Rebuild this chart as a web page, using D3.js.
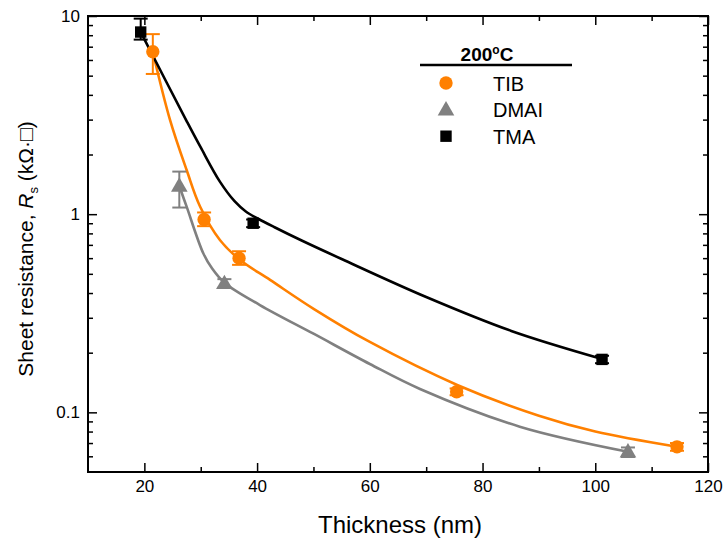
<!DOCTYPE html>
<html>
<head>
<meta charset="utf-8">
<script src="https://cdn.jsdelivr.net/npm/d3@7"></script>
<style>
  body { margin: 0; background: #fff; }
  svg text { font-family: "Liberation Sans", Arial, sans-serif; }
</style>
</head>
<body>
<div id="root"></div>
<script>
//DATA
const tibX = [21.5, 30.6, 36.8, 75.4, 114.5];
const tibY = [6.6, 0.94, 0.60, 0.127, 0.067];
const tibLo = [5.1, 0.87, 0.555, 0.122, 0.064];
const tibHi = [8.1, 1.02, 0.65, 0.132, 0.070];

const dmaiX = [26.2, 34.2, 105.8];
const dmaiY = [1.39, 0.448, 0.0633];
const dmaiLo = [1.08, 0.425, 0.0595];
const dmaiHi = [1.64, 0.47, 0.0665];

const tmaX = [19.35, 39.3, 101.2];
const tmaY = [8.3, 0.90, 0.185];
const tmaLo = [7.6, 0.86, 0.177];
const tmaHi = [9.7, 0.94, 0.193];

//FITTED CURVES
const tibFitX = [21.5, 24.55, 27.5, 29.9, 33.4, 37.0, 42.3, 50.1, 60, 75.5, 90, 100, 114.5];
const tibFitY = [6.58, 2.99, 1.67, 1.09, 0.741, 0.587, 0.466, 0.332, 0.2265, 0.1375, 0.0962, 0.0801, 0.0671];
const dmaiFitX = [26.2, 27.5, 30.45, 32.0, 34.2, 40.5, 50.1, 60, 68.9, 86.6, 105.8];
const dmaiFitY = [1.388, 1.091, 0.635, 0.533, 0.451, 0.348, 0.2486, 0.1754, 0.1312, 0.0847, 0.0633];
const tmaFitX = [19.35, 24.0, 27.5, 30.0, 33.4, 36.0, 38.0, 40.1, 43.1, 48.0, 55.1, 70.0, 85.1, 101.2];
const tmaFitY = [8.3, 4.59, 2.95, 2.17, 1.46, 1.163, 1.032, 0.951, 0.859, 0.734, 0.592, 0.382, 0.2576, 0.186];

//TICKS
const xMajor = [20, 40, 60, 80, 100, 120];
const xMinor = [30, 50, 70, 90, 110];
const yMajor = [0.1, 1, 10];
const yMinor = [0.06, 0.07, 0.08, 0.09, 0.2, 0.3, 0.4, 0.5, 0.6, 0.7, 0.8, 0.9, 2, 3, 4, 5, 6, 7, 8, 9];

const seriesNames = ["TIB", "DMAI", "TMA"];
const colors = {TIB: "#ff8000", DMAI: "#808080", TMA: "#000000"};

//DIMENSIONS
const width = 727, height = 546;
const pl = 88, pr = 708, pt = 16, pb = 472;

const svg = d3.select('#root')
  .append('svg')
  .attr('width', width)
  .attr('height', height);

//SCALES
const x = d3.scaleLinear().domain([10, 120]).range([pl, pr]);
const y = d3.scaleLog().domain([0.05, 10]).range([pb, pt]);

//AXES (ticks point inward)
function addAxis(gen, tx, ty, vals, size, fmt) {
  const g = svg.append('g')
    .attr('transform', `translate(${tx},${ty})`)
    .call(gen.tickValues(vals).tickSize(-size).tickPadding(8).tickFormat(fmt));
  g.select('.domain').remove();
  g.selectAll('line').attr('stroke', '#000').attr('stroke-width', 1.5);
  g.selectAll('text').attr('fill', '#000').style('font-size', '17px');
  return g;
}
addAxis(d3.axisBottom(x), 0, pb, xMajor, 9, d => d);
addAxis(d3.axisBottom(x), 0, pb, xMinor, 5, () => '');
addAxis(d3.axisTop(x), 0, pt, xMajor, 9, () => '');
addAxis(d3.axisTop(x), 0, pt, xMinor, 5, () => '');
addAxis(d3.axisLeft(y), pl, 0, yMajor, 9, d => d);
addAxis(d3.axisLeft(y), pl, 0, yMinor, 5, () => '');
addAxis(d3.axisRight(y), pr, 0, yMajor, 9, () => '');
addAxis(d3.axisRight(y), pr, 0, yMinor, 5, () => '');

//FRAME
svg.append('rect')
  .attr('x', pl).attr('y', pt)
  .attr('width', pr - pl).attr('height', pb - pt)
  .attr('fill', 'none').attr('stroke', '#000').attr('stroke-width', 2);

//CURVES
const line = d3.line()
  .x(d => x(d[0]))
  .y(d => y(d[1]))
  .curve(d3.curveCatmullRom.alpha(0.5));

const fits = {
  TMA: d3.zip(tmaFitX, tmaFitY),
  TIB: d3.zip(tibFitX, tibFitY),
  DMAI: d3.zip(dmaiFitX, dmaiFitY)
};
["DMAI", "TIB", "TMA"].forEach(k => {
  svg.append('path')
    .datum(fits[k])
    .attr('fill', 'none')
    .attr('stroke', colors[k])
    .attr('stroke-width', 2.6)
    .attr('d', line);
});

//POINTS + ERROR BARS
const points = {
  TIB: tibX.map((v, i) => ({x: v, y: tibY[i], lo: tibLo[i], hi: tibHi[i]})),
  DMAI: dmaiX.map((v, i) => ({x: v, y: dmaiY[i], lo: dmaiLo[i], hi: dmaiHi[i]})),
  TMA: tmaX.map((v, i) => ({x: v, y: tmaY[i], lo: tmaLo[i], hi: tmaHi[i]}))
};
const shapes = {TIB: d3.symbolCircle, DMAI: d3.symbolTriangle, TMA: d3.symbolSquare};
const sizes = {TIB: 140, DMAI: 120, TMA: 130};

seriesNames.forEach(k => {
  const g = svg.append('g');
  const c = colors[k];
  points[k].forEach(p => {
    const px = x(p.x);
    g.append('line').attr('x1', px).attr('x2', px)
      .attr('y1', y(p.lo)).attr('y2', y(p.hi))
      .attr('stroke', c).attr('stroke-width', 2);
    [p.lo, p.hi].forEach(v => {
      g.append('line').attr('x1', px - 7).attr('x2', px + 7)
        .attr('y1', y(v)).attr('y2', y(v))
        .attr('stroke', c).attr('stroke-width', 2);
    });
    g.append('path')
      .attr('d', d3.symbol().type(shapes[k]).size(sizes[k])())
      .attr('transform', `translate(${px},${y(p.y) + (k === 'DMAI' ? 1 : 0)})`)
      .attr('fill', c);
  });
});

//LEGEND
const leg = svg.append('g');
const head = leg.append('text')
  .attr('x', 487).attr('y', 61)
  .attr('text-anchor', 'middle')
  .style('font-size', '19px').style('font-weight', 'bold');
head.append('tspan').text('200');
head.append('tspan').attr('dy', -7).style('font-size', '12px').text('o');
head.append('tspan').attr('dy', 7).text('C');
leg.append('line')
  .attr('x1', 420).attr('x2', 572).attr('y1', 65).attr('y2', 65)
  .attr('stroke', '#000').attr('stroke-width', 2.5);
seriesNames.forEach((k, i) => {
  const cy = 83 + i * 26.6;
  leg.append('path')
    .attr('d', d3.symbol().type(shapes[k]).size(sizes[k])())
    .attr('transform', `translate(446,${cy + (k === 'DMAI' ? 1 : 0)})`)
    .attr('fill', colors[k]);
  leg.append('text')
    .attr('x', 493).attr('y', cy + 7.5)
    .style('font-size', '20px')
    .text(k);
});

//AXIS TITLES
svg.append('text')
  .attr('x', 400).attr('y', 533)
  .attr('text-anchor', 'middle')
  .style('font-size', '24px')
  .text('Thickness (nm)');

const yt = svg.append('text')
  .attr('transform', `translate(33,${(118 + 380) / 2}) rotate(-90)`)
  .attr('text-anchor', 'middle')
  .style('font-size', '21px');
yt.append('tspan').text('Sheet resistance, ');
yt.append('tspan').style('font-style', 'italic').text('R');
yt.append('tspan').attr('dy', 5).style('font-size', '13px').text('s');
yt.append('tspan').attr('dy', -5).text(' (kΩ·□)');
</script>
</body>
</html>
